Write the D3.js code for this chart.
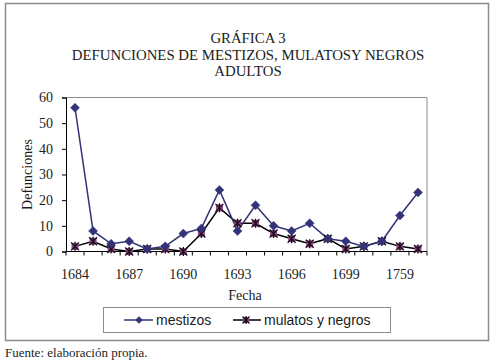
<!DOCTYPE html>
<html>
<head>
<meta charset="utf-8">
<script src="https://cdn.jsdelivr.net/npm/d3@7"></script>
<style>
  body { margin: 0; background: #fff; }
</style>
</head>
<body>
<div id="chart"></div>
<script>
// Categories (years) and the two series.
const years = [1684, 1685, 1686, 1687, 1688, 1689, 1690, 1691, 1692, 1693,
  1694, 1695, 1696, 1697, 1698, 1699, 1700, 1758, 1759, 1760];
const tickYears = [1684, 1687, 1690, 1693, 1696, 1699, 1759];
const mestizos = [56, 8, 3, 4, 1, 2, 7, 9, 24, 8, 18, 10, 8, 11, 5, 4, 2, 4, 14, 23];
const mulatos = [2, 4, 1, 0, 1, 1, 0, 7, 17, 11, 11, 7, 5, 3, 5, 1, 2, 4, 2, 1];
const yTicks = [0, 10, 20, 30, 40, 50, 60];

const width = 492;
const height = 364;
const serif = "'Liberation Serif', 'Times New Roman', serif";
const sans = "'Liberation Sans', Arial, sans-serif";
const ink = "#1c1c1c";

const svg = d3.select("#chart")
  .append("svg")
  .attr("width", width)
  .attr("height", height);

// Outer frame of the chart.
svg.append("rect")
  .attr("x", 5.5).attr("y", 3.5)
  .attr("width", 483).attr("height", 337)
  .attr("fill", "#fff")
  .attr("stroke", "#8c8c8c")
  .attr("stroke-width", 1.5);

// Title lines.
const titleLines = ["GRÁFICA 3", "DEFUNCIONES DE MESTIZOS, MULATOSY NEGROS", "ADULTOS"];
svg.selectAll("text.title")
  .data(titleLines)
  .join("text")
  .attr("class", "title")
  .attr("x", 248)
  .attr("y", (d, i) => 43 + i * 16.5)
  .attr("text-anchor", "middle")
  .attr("font-family", serif)
  .attr("font-size", 14.8)
  .attr("fill", ink)
  .text((d) => d);

// Plot area.
const plotLeft = 66, plotRight = 427, plotTop = 97.5, plotBottom = 251.5;

const x = d3.scaleBand()
  .domain(years)
  .range([plotLeft, plotRight]);

const y = d3.scaleLinear()
  .domain([0, 60])
  .range([plotBottom, plotTop]);

// Plot area border (top and right grey).
svg.append("path")
  .attr("d", `M${plotLeft},${plotTop}H${plotRight}V${plotBottom}`)
  .attr("fill", "none")
  .attr("stroke", "#8c8c8c")
  .attr("stroke-width", 1);

// y-axis.
svg.append("g")
  .attr("transform", `translate(${plotLeft},0)`)
  .call(d3.axisLeft(y).tickValues(yTicks).tickSize(4).tickPadding(9))
  .call((g) => g.select(".domain").attr("stroke", "#000"))
  .call((g) => g.selectAll(".tick line").attr("stroke", "#000"))
  .call((g) => g.selectAll("text")
    .attr("font-family", serif)
    .attr("font-size", 14)
    .attr("fill", ink));

// x-axis: line and tick marks between categories.
svg.append("line")
  .attr("x1", plotLeft).attr("x2", plotRight)
  .attr("y1", plotBottom).attr("y2", plotBottom)
  .attr("stroke", "#000");

svg.selectAll("line.xtick")
  .data(years.concat([null]))
  .join("line")
  .attr("class", "xtick")
  .attr("x1", (d, i) => plotLeft + i * x.step())
  .attr("x2", (d, i) => plotLeft + i * x.step())
  .attr("y1", plotBottom)
  .attr("y2", plotBottom + 4)
  .attr("stroke", "#000");

svg.selectAll("text.xlabel")
  .data(tickYears)
  .join("text")
  .attr("class", "xlabel")
  .attr("x", (d) => x(d) + x.bandwidth() / 2)
  .attr("y", 279)
  .attr("text-anchor", "middle")
  .attr("font-family", serif)
  .attr("font-size", 14)
  .attr("fill", ink)
  .text((d) => d);

// Axis titles.
svg.append("text")
  .attr("x", 245)
  .attr("y", 300)
  .attr("text-anchor", "middle")
  .attr("font-family", serif)
  .attr("font-size", 14)
  .attr("fill", ink)
  .text("Fecha");

svg.append("text")
  .attr("transform", `translate(32, ${(plotTop + plotBottom) / 2}) rotate(-90)`)
  .attr("text-anchor", "middle")
  .attr("font-family", serif)
  .attr("font-size", 14)
  .attr("fill", ink)
  .text("Defunciones");

const cx = (i) => x(years[i]) + x.bandwidth() / 2;
const navy = "#33337a";
const plum = "#8c4a82";

// Markers.
function diamond(g, px, py, r = 4.5) {
  g.append("path")
    .attr("d", `M${px},${py - r}L${px + r},${py}L${px},${py + r}L${px - r},${py}Z`)
    .attr("fill", navy)
    .attr("stroke", navy)
    .attr("stroke-width", 0.5);
}

function star(g, px, py, r = 4) {
  g.append("rect")
    .attr("x", px - r + 0.5).attr("y", py - r + 0.5)
    .attr("width", 2 * r - 1).attr("height", 2 * r - 1)
    .attr("fill", plum);
  g.append("path")
    .attr("d", `M${px - r},${py - r}L${px + r},${py + r}M${px + r},${py - r}L${px - r},${py + r}M${px},${py - r - 0.5}V${py + r + 0.5}`)
    .attr("stroke", "#1a0f1a")
    .attr("stroke-width", 1.3);
}

// Lines.
const seriesLine = d3.line().x((d, i) => cx(i)).y((d) => y(d));

svg.append("path")
  .attr("d", seriesLine(mulatos))
  .attr("fill", "none")
  .attr("stroke", "#000")
  .attr("stroke-width", 1.5);

svg.append("path")
  .attr("d", seriesLine(mestizos))
  .attr("fill", "none")
  .attr("stroke", navy)
  .attr("stroke-width", 1.5);

const markers = svg.append("g");
mulatos.forEach((d, i) => star(markers, cx(i), y(d)));
mestizos.forEach((d, i) => diamond(markers, cx(i), y(d)));

// Legend.
const legend = svg.append("g");
legend.append("rect")
  .attr("x", 103.5).attr("y", 307.5)
  .attr("width", 287).attr("height", 25)
  .attr("fill", "#fff")
  .attr("stroke", "#8c8c8c");

legend.append("line")
  .attr("x1", 124).attr("x2", 153).attr("y1", 320).attr("y2", 320)
  .attr("stroke", navy).attr("stroke-width", 1.5);
diamond(legend, 139, 320, 3.5);
legend.append("text")
  .attr("x", 156).attr("y", 325)
  .attr("font-family", sans).attr("font-size", 14)
  .attr("fill", ink)
  .text("mestizos");

legend.append("line")
  .attr("x1", 233).attr("x2", 261).attr("y1", 320).attr("y2", 320)
  .attr("stroke", "#000").attr("stroke-width", 1.5);
star(legend, 246, 320, 3.5);
legend.append("text")
  .attr("x", 264).attr("y", 325)
  .attr("font-family", sans).attr("font-size", 14)
  .attr("fill", ink)
  .text("mulatos y negros");

// Source note.
svg.append("text")
  .attr("x", 5).attr("y", 357)
  .attr("font-family", serif)
  .attr("font-size", 13)
  .attr("fill", ink)
  .text("Fuente: elaboración propia.");
</script>
</body>
</html>
